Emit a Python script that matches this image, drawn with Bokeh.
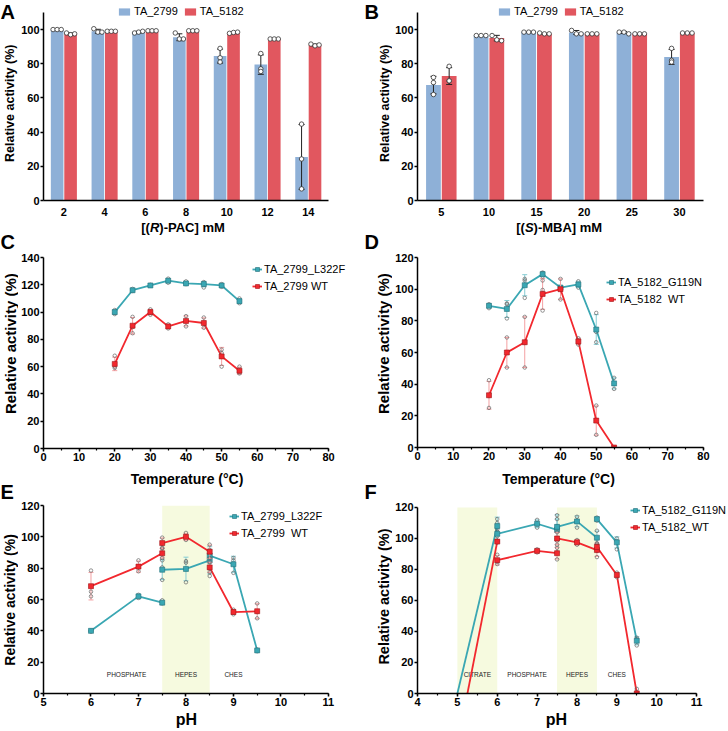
import numpy as np
from bokeh.plotting import figure
from bokeh.models import (Range1d, FixedTicker, SingleIntervalTicker, Label, Legend,
                          LegendItem, BoxAnnotation)
from bokeh.layouts import column, row
from bokeh.embed import file_html
from bokeh.resources import INLINE
from bokeh.core.properties import value

FONT = "Liberation Sans"
BLUE_BAR = "#8EB0D7"
RED_BAR = "#E1575F"
TEAL = "#3AA7B3"
TEAL_EDGE = "#23707A"
TEAL_ERR = "#86CDD4"
RED = "#F2282E"
RED_EDGE = "#A01418"
RED_ERR = "#F4A0A2"
BUFFER_FILL = "#F6FADF"

# ---------------- A: [(R)-PAC] tolerance ----------------
pac_mM = ["2", "4", "6", "8", "10", "12", "14"]
a_2799_mean = [100, 99, 98.5, 95.5, 84.5, 79.5, 25.5]
a_2799_reps = [[100, 100, 100], [100.5, 98.5, 98.5], [98, 98.5, 99], [98, 94.5, 94.5],
               [89, 83.5, 81], [86, 77, 75.5], [44.7, 24.3, 6.8]]
a_5182_mean = [97.5, 99, 99, 99, 98, 94.5, 91]
a_5182_reps = [[98, 97, 97.5], [99, 99, 99], [99.3, 99.3, 99.3], [99.3, 99.3, 99.3],
               [97.8, 98.3, 98.5], [94.5, 94.5, 94.5], [91.5, 90.5, 91]]

# ---------------- B: [(S)-MBA] tolerance ----------------
mba_mM = ["5", "10", "15", "20", "25", "30"]
b_2799_mean = [67.5, 96.5, 98.5, 98.3, 98.3, 84]
b_2799_reps = [[72, 69, 62], [96.5, 96.5, 96.5], [98.5, 98.5, 98.5], [99.5, 97.5, 97.5],
               [98.5, 98.5, 97.5], [89, 82, 81]]
b_5182_mean = [72.8, 95, 97.5, 97.5, 97.5, 98]
b_5182_reps = [[78.5, 70, 70], [96.5, 94, 93.5], [98, 97.5, 97.5], [97.5, 97.5, 97.5],
               [97.5, 97.5, 97.5], [98, 98, 98]]

# ---------------- C / D: temperature profiles ----------------
temp_C = [20, 25, 30, 35, 40, 45, 50, 55]
c_l322f_mean = [100, 116, 119.5, 123, 121, 120.5, 119.5, 108]
c_l322f_reps = [[101.5, 99.5, 98.5], [117, 116, 115.5], [120, 119.5, 119.5], [124.5, 123, 121.5],
                [122.5, 121, 120.5], [122, 120.5, 118], [120.5, 119.5, 118.5], [110, 108, 106.5]]
c_wt_mean = [62, 90, 100, 89.5, 93.5, 92, 67.5, 57]
c_wt_reps = [[68, 60, 59], [96.5, 89, 84.5], [102, 99.5, 98], [91, 88, 89],
             [97, 93.5, 89.5], [96, 92, 88.5], [72.5, 70, 60], [60, 56, 55]]

d_g119n_mean = [89.5, 87.5, 102.5, 109.5, 101, 103, 74.5, 40.5]
d_g119n_reps = [[90.5, 89.5, 88], [91, 90.5, 81.5], [106.5, 105.5, 94.5], [110.5, 110, 108],
                [101.5, 100.5, 101], [105, 103, 101], [85, 73, 66.5], [44, 40.5, 37]]
d_wt_mean = [33, 60, 66.5, 97, 100, 67, 17, 0]
d_wt_reps = [[42.5, 32.5, 25], [69.5, 60, 50.5], [82.5, 66, 50.5], [105.5, 99.5, 86.5],
             [106.5, 100, 93.5], [69, 67.5, 65], [26.5, 17, 8], [0, 0, 0]]

# ---------------- E / F: pH profiles ----------------
e_pH = [6, 7, 7.5, 7.5, 8, 8.5, 8.5, 9, 9.5]
e_buffer = ["PHOSPHATE", "PHOSPHATE", "PHOSPHATE", "HEPES", "HEPES", "HEPES", "CHES", "CHES", "CHES"]
e_l322f_mean = [40, 62, 58, 79, 79.5, 85, 88, 82.5, 27.5]
e_l322f_reps = [[40, 40, 39.5], [63, 62, 61], [59.5, 58, 57.5], [85, 80.5, 72.5], [84.5, 83.5, 71],
                [91, 89, 75], [91.5, 89, 83.5], [86.5, 85, 77], [28, 27.5, 27]]
e_wt_mean = [68.5, 81, 89.5, 96, 100, 90.5, 80.5, 52, 52.5]
e_wt_reps = [[78.5, 65, 62], [85, 80.5, 78], [92.5, 89.5, 86.5], [99.5, 95.5, 93], [102.5, 100, 98],
             [95, 91, 86.5], [84, 80, 77.5], [53.5, 51.5, 50.5], [57.5, 52, 48]]
e_buffer_names = ["PHOSPHATE", "HEPES", "CHES"]
e_buffer_lo = [6.0, 7.5, 8.5]
e_buffer_hi = [7.5, 8.5, 9.5]
e_shaded = ["HEPES"]

f_pH = [5, 6, 6, 7, 7.5, 7.5, 8, 8.5, 8.5, 9, 9.5]
f_buffer = ["CITRATE", "CITRATE", "PHOSPHATE", "PHOSPHATE", "PHOSPHATE",
            "HEPES", "HEPES", "HEPES", "CHES", "CHES", "CHES"]
f_g119n_mean = [0, 108, 103, 109.5, 105.5, 107.5, 111, 100.5, 112.5, 97.5, 34]
f_g119n_reps = [None, [112.5, 110, 101.5], [106, 104.5, 98.5], [112, 109.5, 107], [112.5, 105.5, 98.5],
                [115, 108, 99.5], [114, 111.5, 107], [105, 100, 96.5], [113.5, 112.5, 111.5],
                [100, 98, 93], [36, 35, 31]]
f_wt_mean = [-33, 98, 86, 92, 90.5, 100, 97.5, 92.5, 94.5, 76.5, 0]
f_wt_reps = [None, [98.5, 98, 97.5], [89.5, 85, 83.5], [93, 92, 91], [94, 91, 86.5],
             [104, 100, 96], [99, 97.5, 96], [96, 93, 88], [97, 94.5, 92], [78, 76.5, 75], [3, 0, 0]]
f_buffer_names = ["CITRATE", "PHOSPHATE", "HEPES", "CHES"]
f_buffer_lo = [5.0, 6.0, 7.5, 8.5]
f_buffer_hi = [6.0, 7.5, 8.5, 9.5]
f_shaded = ["CITRATE", "HEPES"]

BUFFER_LABEL_Y = 12
YLAB = "Relative activity  (%)"
PAGE_H = 731

# Liberation Sans Bold advance widths (em) for the composite axis titles
BOLD_W = {"[": .333, "(": .333, ")": .333, "-": .333, "P": .667, "A": .722, "C": .722,
          "]": .333, " ": .278, "m": .889, "M": .833, "R": .722, "S": .667, "B": .722}

LEFT_W, RIGHT_W = 18, 28          # letter / y-title strips
COL_L, COL_R = 346, 336           # plot columns
INSET = 25                        # left border shared by every figure of a column


def base_fig(width, height, top, bottom, x_range, y_range):
    p = figure(width=width, height=height, x_range=x_range, y_range=y_range,
               output_backend="svg", toolbar_location=None,
               min_border_left=INSET, min_border_right=0,
               min_border_top=top, min_border_bottom=bottom)
    p.outline_line_color = None
    p.xgrid.visible = False
    p.ygrid.visible = False
    p.background_fill_color = "white"
    p.border_fill_color = "white"
    for ax in (p.xaxis[0], p.yaxis[0]):
        ax.axis_line_width = 1.5
        ax.axis_line_color = "black"
        ax.major_tick_line_width = 1.5
        ax.major_tick_line_color = "black"
        ax.minor_tick_line_width = 1.2
        ax.minor_tick_line_color = "black"
        ax.major_tick_in = 0
        ax.major_tick_out = 3
        ax.minor_tick_in = 0
        ax.minor_tick_out = 2
        ax.major_label_text_font = FONT
        ax.major_label_text_font_style = "bold"
        ax.major_label_text_font_size = "11px"
        ax.major_label_text_color = "black"
        ax.major_label_standoff = 1
    return p


def strip(width, height, left=0):
    """Axis-free text strip; data units are pixels measured from its top-left corner."""
    s = figure(width=width, height=height, x_range=Range1d(left, width), y_range=Range1d(height, 0),
               output_backend="svg", toolbar_location=None, x_axis_type=None, y_axis_type=None,
               min_border=0, min_border_left=left, min_border_right=0,
               min_border_top=0, min_border_bottom=0)
    s.outline_line_color = None
    s.background_fill_color = "white"
    s.border_fill_color = "white"
    return s


def put_text(s, x, y, text, size, style="bold", align="left", angle=0.0):
    # y is the vertical middle of the text line
    s.add_layout(Label(x=x, y=y, text=text, text_font=FONT, text_font_size=size,
                       text_font_style=style, text_align=align, text_baseline="middle",
                       angle=angle, text_color="black"))


def italic_title(s, cx, cy, pre, ital, post, size):
    parts = [(pre, "bold"), (ital, "bold italic"), (post, "bold")]
    widths = [sum(BOLD_W[c] for c in t) * size for t, _ in parts]
    x = cx - sum(widths) / 2
    for (t, style), w in zip(parts, widths):
        put_text(s, x, cy, t, f"{size}px", style=style)
        x += w


def side_strip(width, entries):
    """Panel letters and rotated y titles of one page column."""
    s = strip(width, PAGE_H)
    for letter, letter_y, ylab_x, ylab_y, ylab_size in entries:
        put_text(s, 0, letter_y, letter, "20px")
        put_text(s, ylab_x, ylab_y, YLAB, ylab_size, align="center", angle=np.pi / 2)
    return s


def legend(p, items, loc, glyph_w, glyph_h, orientation="vertical", spacing=5, standoff=2):
    lg = Legend(items=items, location=loc, orientation=orientation,
                border_line_color=None, background_fill_alpha=0, padding=0, margin=0,
                spacing=spacing, glyph_width=glyph_w, glyph_height=glyph_h,
                label_height=12, label_standoff=standoff, label_text_font=FONT,
                label_text_font_size="11px", label_text_color="black")
    p.add_layout(lg)


def error_bars(p, xs, means, reps, color, cap):
    ex, lo, hi = [], [], []
    for x, m, r in zip(xs, means, reps):
        if r is None:
            continue
        s = float(np.std(r, ddof=1))
        ex.append(x)
        lo.append(m - s)
        hi.append(m + s)
    p.segment(x0=ex, y0=lo, x1=ex, y1=hi, line_color=color, line_width=1)
    p.scatter(ex, hi, marker="dash", size=cap, line_color=color, line_width=1)
    p.scatter(ex, lo, marker="dash", size=cap, line_color=color, line_width=1)


def bar_panel(width, cats, m1, r1, m2, r2, x_end):
    n = len(cats)
    # the frame runs to the canvas top and right edge; the axes stop at their bounds
    p = base_fig(width, 218, 0, 18, Range1d(-0.5, x_end), Range1d(0, 117))
    idx = np.arange(n)
    off = 0.165
    b1 = p.vbar(x=idx - off, top=m1, width=0.31, fill_color=BLUE_BAR, line_color=None)
    b2 = p.vbar(x=idx + off, top=m2, width=0.31, fill_color=RED_BAR, line_color=None)
    for xs, means, reps in ((idx - off, m1, r1), (idx + off, m2, r2)):
        error_bars(p, xs, means, reps, "#222222", 6)
        px, py = [], []
        for x0, r in zip(xs, reps):
            spread = (max(r) - min(r)) < 4
            for k, v in enumerate(r):
                px.append(x0 + ((k - 1) * 0.1 if spread else 0))
                py.append(v)
        p.scatter(px, py, marker="circle", size=4.5, fill_color="white",
                  line_color="#333333", line_width=0.8)
    xa = p.xaxis[0]
    xa.ticker = FixedTicker(ticks=list(range(n)))
    xa.major_label_overrides = {i: c for i, c in enumerate(cats)}
    xa.major_tick_line_color = None
    xa.minor_tick_line_color = None
    xa.major_label_standoff = 4
    xa.bounds = (-0.5, n - 0.5)
    ya = p.yaxis[0]
    ya.ticker = SingleIntervalTicker(interval=20, num_minor_ticks=0)
    ya.bounds = (0, 110)
    return p, b1, b2


def draw_series(p, xs, means, reps, groups, color, edge, err_color):
    error_bars(p, xs, means, reps, err_color, 5)
    first = None
    for g in dict.fromkeys(groups):
        gx = [x for x, gg in zip(xs, groups) if gg == g]
        gy = [m for m, gg in zip(means, groups) if gg == g]
        r = p.line(gx, gy, line_color=color, line_width=1.8)
        first = first or r
    rx, ry = [], []
    for x, r in zip(xs, reps):
        if r is None:
            continue
        rx += [x] * len(r)
        ry += list(r)
    p.scatter(rx, ry, marker="circle", size=3.5, fill_alpha=0, line_color="#666666", line_width=0.7)
    mx = [x for x, r in zip(xs, reps) if r is not None]
    my = [m for m, r in zip(means, reps) if r is not None]
    mk = p.scatter(mx, my, marker="square", size=5, fill_color=color, line_color=edge, line_width=0.6)
    return first, mk


def line_panel(width, height, top, bottom, x_axis, x_end, y_axis, y_end, x_int):
    # frame reaches the canvas edge on the right so that legends fit; axes keep their bounds
    p = base_fig(width, height, top, bottom, Range1d(x_axis[0], x_end), Range1d(y_axis[0], y_end))
    p.xaxis[0].ticker = SingleIntervalTicker(interval=x_int, num_minor_ticks=2)
    p.xaxis[0].bounds = x_axis
    p.yaxis[0].ticker = SingleIntervalTicker(interval=20, num_minor_ticks=0)
    p.yaxis[0].minor_tick_line_color = None
    p.yaxis[0].bounds = y_axis
    return p


def buffers(p, names, lo, hi, shaded, top):
    for nm, a, b in zip(names, lo, hi):
        if nm in shaded:
            p.add_layout(BoxAnnotation(left=a, right=b, bottom=0, top=top, fill_color=BUFFER_FILL,
                                       fill_alpha=1, line_color=None, level="underlay"))
    centers = [(a + b) / 2 for a, b in zip(lo, hi)]
    p.text(x=centers, y=[BUFFER_LABEL_Y] * len(names), text=names,
           text_font=value(FONT), text_font_size=value("6.5px"), text_align="center",
           text_baseline="middle", text_color="#222222")


# ================= A =================
pA, a1, a2 = bar_panel(COL_L, pac_mM, a_2799_mean, a_2799_reps, a_5182_mean, a_5182_reps, 7.38)
legend(pA, [LegendItem(label="TA_2799", renderers=[a1]), LegendItem(label="TA_5182", renderers=[a2])],
       (74, 183), 14, 9, orientation="horizontal", standoff=3)
bA = strip(COL_L, 20, INSET)
italic_title(bA, 165, 8.7, "[(", "R", ")-PAC] mM", 13)

# ================= B =================
pB, bb1, bb2 = bar_panel(COL_R, mba_mM, b_2799_mean, b_2799_reps, b_5182_mean, b_5182_reps, 6.03)
legend(pB, [LegendItem(label="TA_2799", renderers=[bb1]), LegendItem(label="TA_5182", renderers=[bb2])],
       (80, 183), 14, 9, orientation="horizontal", standoff=3)
bB = strip(COL_R, 20, INSET)
italic_title(bB, 166.7, 8.7, "[(", "S", ")-MBA] mM", 13)

# ================= C =================
pC = line_panel(COL_L, 229, 19, 19, (0, 80), 90.1, (0, 140), 140, 10)
cl, cm = draw_series(pC, temp_C, c_l322f_mean, c_l322f_reps, [0] * len(temp_C), TEAL, TEAL_EDGE, TEAL_ERR)
wl, wm = draw_series(pC, temp_C, c_wt_mean, c_wt_reps, [0] * len(temp_C), RED, RED_EDGE, RED_ERR)
legend(pC, [LegendItem(label="TA_2799_L322F", renderers=[cl, cm]),
            LegendItem(label="TA_2799 WT", renderers=[wl, wm])], (209, 156), 10, 12)
bC = strip(COL_L, 23, INSET)
put_text(bC, 168.5, 11.3, "Temperature (°C)", "14px", align="center")

# ================= D =================
pD = line_panel(COL_R, 229, 19, 20, (0, 80), 87.0, (0, 120), 120, 10)
gl, gm = draw_series(pD, temp_C, d_g119n_mean, d_g119n_reps, [0] * len(temp_C), TEAL, TEAL_EDGE, TEAL_ERR)
wl, wm = draw_series(pD, temp_C, d_wt_mean, d_wt_reps, [0] * len(temp_C), RED, RED_EDGE, RED_ERR)
legend(pD, [LegendItem(label="TA_5182_G119N", renderers=[gl, gm]),
            LegendItem(label="TA_5182  WT", renderers=[wl, wm])], (189, 142), 10, 12)
bD = strip(COL_R, 23, INSET)
put_text(bD, 166, 11.3, "Temperature (°C)", "14px", align="center")

# ================= E =================
pE = line_panel(COL_L, 220, 15, 17, (5, 11), 11.76, (0, 120), 120, 1)
buffers(pE, e_buffer_names, e_buffer_lo, e_buffer_hi, e_shaded, 120)
ml, mm = draw_series(pE, e_pH, e_l322f_mean, e_l322f_reps, e_buffer, TEAL, TEAL_EDGE, TEAL_ERR)
wl, wm = draw_series(pE, e_pH, e_wt_mean, e_wt_reps, e_buffer, RED, RED_EDGE, RED_ERR)
legend(pE, [LegendItem(label="TA_2799_L322F", renderers=[ml, mm]),
            LegendItem(label="TA_2799  WT", renderers=[wl, wm])], (186, 154), 10, 12)
bE = strip(COL_L, 21, INSET)
put_text(bE, 168, 9, "pH", "16px", align="center")

# ================= F =================
pF = line_panel(COL_R, 220, 10, 17, (4, 11), 11.80, (0, 120), 124.5, 1)
buffers(pF, f_buffer_names, f_buffer_lo, f_buffer_hi, f_shaded, 120)
ml, mm = draw_series(pF, f_pH, f_g119n_mean, f_g119n_reps, f_buffer, TEAL, TEAL_EDGE, TEAL_ERR)
wl, wm = draw_series(pF, f_pH, f_wt_mean, f_wt_reps, f_buffer, RED, RED_EDGE, RED_ERR)
legend(pF, [LegendItem(label="TA_5182_G119N", renderers=[ml, mm]),
            LegendItem(label="TA_5182_WT", renderers=[wl, wm])], (213, 160), 10, 12)
bF = strip(COL_R, 21, INSET)
put_text(bF, 164, 9, "pH", "16px", align="center")

# ---- letters and y titles ----
sL = side_strip(LEFT_W, [("A", 11, 9.5, 101, "12.5px"),
                         ("C", 241.7, 9.5, 341, "15px"),
                         ("E", 491.7, 9.8, 597.5, "14px")])
sR = side_strip(RIGHT_W, [("B", 11, 20.8, 101, "12.5px"),
                          ("D", 241.7, 19, 341, "15px"),
                          ("F", 491.7, 19, 594, "14.5px")])

layout = row(sL, column(pA, bA, pC, bC, pE, bE), sR, column(pB, bB, pD, bD, pF, bF))
open("out.html", "w").write(file_html(layout, INLINE))
